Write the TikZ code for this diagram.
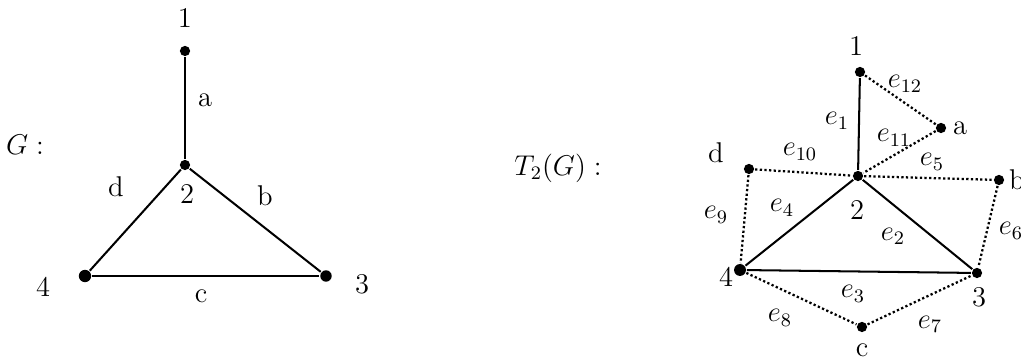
\documentclass[tikz,border=0pt]{standalone}
\usetikzlibrary{positioning}
\tikzset{
  every picture/.style={line width=0.85pt},
  vtx/.style={circle, fill=black, inner sep=0pt, minimum size=#1},
  vtx/.default=4.3pt,
  lbl/.style={inner sep=1pt, font=\large},
  dotedge/.style={densely dotted, line width=0.95pt},
}
\begin{document}
\begin{tikzpicture}[x=0.42pt, y=-0.42pt]
  \useasboundingbox (0,0) rectangle (1021,360);
  % graph G
  \node[lbl] (gname) at (25,145) {$G:$};
  \node[vtx] (g1) at (185,51) {};
  \node[vtx] (g2) at (185,165) {};
  \node[vtx=4.8pt] (g3) at (326,276) {};
  \node[vtx=5.2pt] (g4) at (85,276) {};
  \draw (g1) -- (g2);
  \draw (g2) -- (g3);
  \draw (g2) -- (g4);
  \draw (g4) -- (g3);
  \node[lbl] (gl1) at (185,18) {1};
  \node[lbl] (gl2) at (187,194) {2};
  \node[lbl] (gl3) at (362,284) {3};
  \node[lbl] (gl4) at (43,287) {4};
  \node[lbl] (ga) at (205,100) {a};
  \node[lbl] (gb) at (265,196) {b};
  \node[lbl] (gc) at (201,296) {c};
  \node[lbl] (gd) at (116,187) {d};
  % total graph T2(G)
  \node[lbl] (tname) at (558,168) {$T_2(G):$};
  \node[vtx] (t1) at (860,72) {};
  \node[vtx] (t2) at (858,176) {};
  \node[vtx] (t3) at (977,273) {};
  \node[vtx=5pt] (t4) at (740,270) {};
  \node[vtx] (ta) at (941,128) {};
  \node[vtx] (tb) at (999,180) {};
  \node[vtx] (tc) at (862,327) {};
  \node[vtx] (td) at (749,169) {};
  \draw (t1) -- (t2);
  \draw (t2) -- (t3);
  \draw (t2) -- (t4);
  \draw (t4) -- (t3);
  \draw[dotedge] (t1) -- (ta);
  \draw[dotedge] (ta) -- (t2);
  \draw[dotedge] (td) -- (t2);
  \draw[dotedge] (t2) -- (tb);
  \draw[dotedge] (td) -- (t4);
  \draw[dotedge] (tb) -- (t3);
  \draw[dotedge] (t4) -- (tc);
  \draw[dotedge] (tc) -- (t3);
  \node[lbl] (tl1) at (856,46) {1};
  \node[lbl] (tl2) at (857,210) {2};
  \node[lbl] (tl3) at (979,297) {3};
  \node[lbl] (tl4) at (726,277) {4};
  \node[lbl] (tla) at (960,128) {a};
  \node[lbl] (tlb) at (1017,180) {b};
  \node[lbl] (tlc) at (862,350) {c};
  \node[lbl] (tld) at (716,153) {d};
  \node[lbl] (e1) at (837,121) {$e_1$};
  \node[lbl] (e2) at (893,236) {$e_2$};
  \node[lbl] (e3) at (853,294) {$e_3$};
  \node[lbl] (e4) at (782,208) {$e_4$};
  \node[lbl] (e5) at (932,162) {$e_5$};
  \node[lbl] (e6) at (1011,231) {$e_6$};
  \node[lbl] (e7) at (930,324) {$e_7$};
  \node[lbl] (e8) at (780,318) {$e_8$};
  \node[lbl] (e9) at (716,215) {$e_9$};
  \node[lbl] (e10) at (800,152) {$e_{10}$};
  \node[lbl] (e11) at (894,138) {$e_{11}$};
  \node[lbl] (e12) at (905,84) {$e_{12}$};
\end{tikzpicture}
\end{document}
